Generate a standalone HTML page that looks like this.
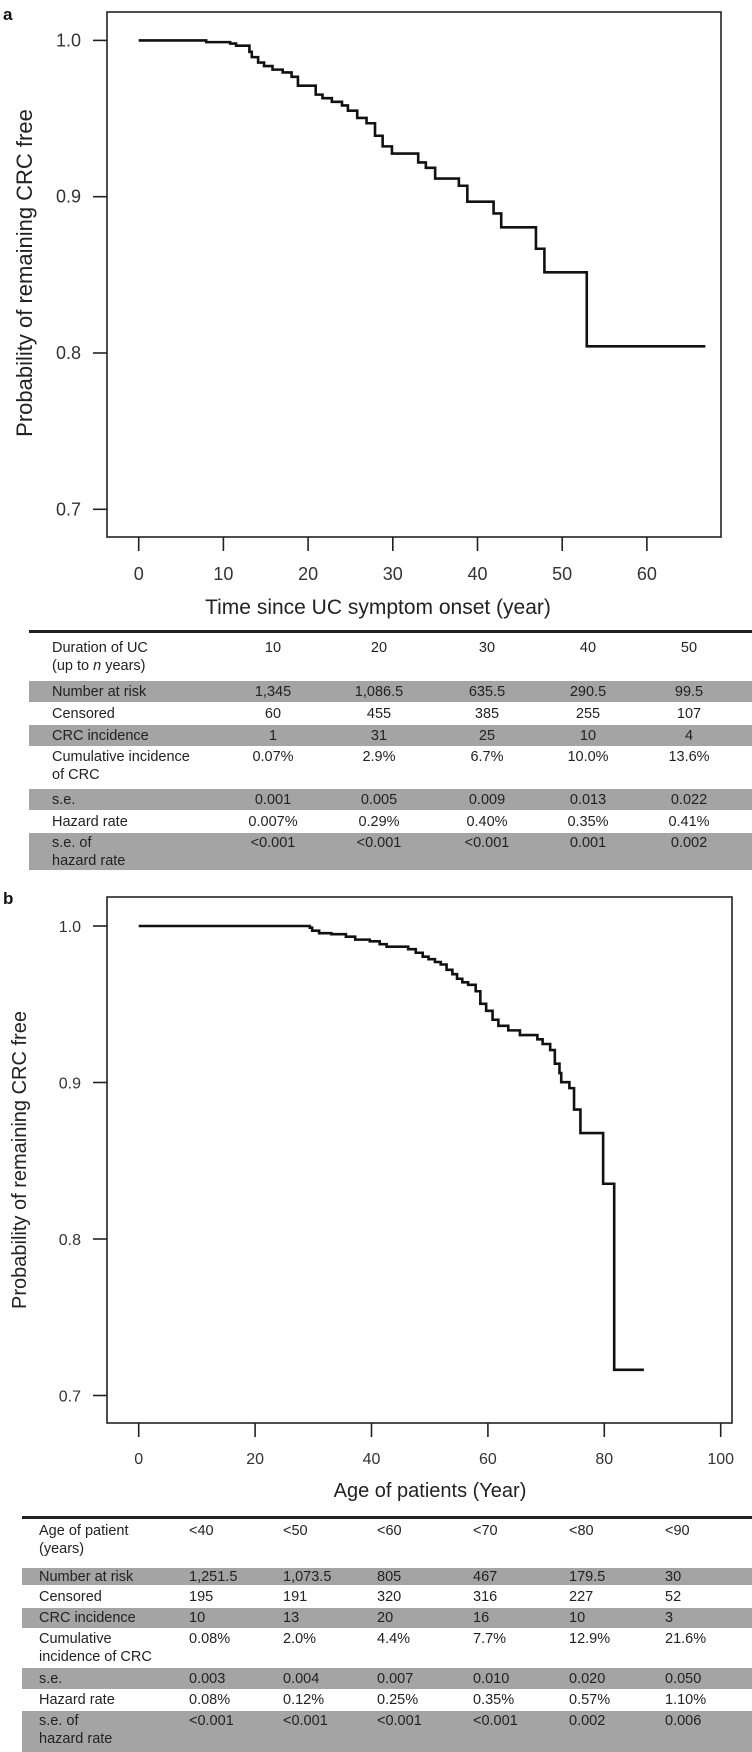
<!DOCTYPE html>
<html><head><meta charset="utf-8">
<style>
body{margin:0;width:752px;height:1752px;background:#fff;position:relative;overflow:hidden;font-family:"Liberation Sans",Arial,sans-serif;color:#222}
svg{position:absolute;left:0;top:0}
.row{position:absolute;left:0;width:752px}
.g{background:#a4a4a4}
.c{position:absolute;font-size:14.5px;line-height:18px;white-space:nowrap}
.ctr{transform:translateX(-50%)}
</style></head>
<body>
<svg id="chart" width="752" height="1752"></svg>

<div id="tables"></div>

<script>
// Panel a data
const aTimes = [0, 7.97, 10.8, 11.5, 13.07, 13.35, 14.1, 14.8, 15.8, 17.0, 18.05, 18.8, 20.9, 21.7, 22.8, 24.0, 24.7, 25.8, 26.9, 27.9, 28.8, 29.9, 33.0, 33.9, 35.0, 37.8, 38.8, 41.9, 42.8, 46.9, 47.9, 52.9];
const aSurv  = [1.0, 0.9989, 0.998, 0.9966, 0.9927, 0.9893, 0.9858, 0.9836, 0.9813, 0.9795, 0.9767, 0.971, 0.9653, 0.963, 0.9607, 0.9584, 0.955, 0.9504, 0.947, 0.939, 0.9322, 0.9276, 0.9219, 0.9185, 0.9116, 0.907, 0.8968, 0.8893, 0.8804, 0.8667, 0.8516, 0.8043];
const aEnd = 66.9;
const aXTicks = [0, 10, 20, 30, 40, 50, 60];
const aYTicks = [1.0, 0.9, 0.8, 0.7];
// Panel b data
const bTimes = [0, 29.4, 29.8, 31.0, 33.1, 35.6, 37.2, 39.7, 41.4, 42.6, 46.3, 47.6, 48.8, 49.8, 50.9, 51.9, 52.9, 53.9, 54.7, 55.6, 56.6, 57.9, 58.7, 59.7, 60.8, 61.8, 63.5, 65.5, 68.5, 69.4, 70.7, 71.5, 72.3, 72.6, 74.0, 74.8, 75.9, 79.8, 81.7, 86.8];
const bSurv  = [1.0, 0.9989, 0.997, 0.9954, 0.9948, 0.9932, 0.9913, 0.9902, 0.9884, 0.9868, 0.9852, 0.9829, 0.9804, 0.9788, 0.977, 0.9754, 0.972, 0.9692, 0.9663, 0.964, 0.9624, 0.9583, 0.9503, 0.9458, 0.9401, 0.9362, 0.9333, 0.9303, 0.9276, 0.9246, 0.9207, 0.912, 0.906, 0.9002, 0.8964, 0.8827, 0.8677, 0.8353, 0.7164];
const bEnd = 90.5;
const bXTicks = [0, 20, 40, 60, 80, 100];
const bYTicks = [1.0, 0.9, 0.8, 0.7];

const NS = "http://www.w3.org/2000/svg";
const svg = document.getElementById('chart');
function mk(tag, attrs, parent){const e=document.createElementNS(NS,tag);for(const k in attrs)e.setAttribute(k,attrs[k]);(parent||svg).appendChild(e);return e;}

function panel(cfg){
  const g = mk('g',{});
  
  
  const x = v => cfg.x0 + (v - cfg.xmin) * cfg.xs;
  const y = v => cfg.y1 + (1.0 - v) * cfg.ys;
  const box = mk('rect',{x:cfg.L,y:cfg.T,width:cfg.R-cfg.L,height:cfg.B-cfg.T,fill:'none',stroke:'#222','stroke-width':1.6},g);
  
  
  cfg.xt.forEach(v=>{
    const t=mk('line',{x1:x(v),x2:x(v),y1:cfg.B,y2:cfg.B+14,stroke:'#222','stroke-width':1.6},g);
    
    
    const l=mk('text',{x:x(v),y:cfg.xlY,'text-anchor':'middle','font-size':cfg.tfs,fill:'#333'},g);
    l.textContent=v;
    
    
  });
  cfg.yt.forEach(v=>{
    const t=mk('line',{x1:cfg.L-14,x2:cfg.L,y1:y(v),y2:y(v),stroke:'#222','stroke-width':1.6},g);
    
    
    const l=mk('text',{x:cfg.L-26,y:y(v)+6,'text-anchor':'end','font-size':cfg.tfs,fill:'#333'},g);
    l.textContent=v.toFixed(1);
    
    
  });
  let d='M'+x(cfg.times[0])+','+y(cfg.surv[0]);
  for(let i=1;i<cfg.times.length;i++){d+=' H'+x(cfg.times[i])+' V'+y(cfg.surv[i]);}
  d+=' H'+x(cfg.end);
  const p=mk('path',{d:d,fill:'none',stroke:'#111','stroke-width':2.6},g);
  
  
  const xt=mk('text',{x:cfg.xtX,y:cfg.xtY,'text-anchor':'middle','font-size':cfg.afs,fill:'#222'},g);
  xt.textContent=cfg.xtitle;
  
  
  const yt=mk('text',{x:0,y:0,'text-anchor':'middle','font-size':cfg.yfs,fill:'#222',transform:'translate('+cfg.ytX+','+cfg.ytY+') rotate(-90)'},g);
  yt.textContent='Probability of remaining CRC free';
  
  
  const pl=mk('text',{x:3,y:cfg.plY,'font-size':17,'font-weight':'bold',fill:'#111'},g);
  pl.textContent=cfg.letter;
  
  
}

panel({name:'panel-a-chart',letter:'a',plY:20,L:107,R:721,T:12,B:537,x0:138.7,xmin:0,xs:8.47,y1:40.4,ys:1563,
  xt:aXTicks,yt:aYTicks,times:aTimes,surv:aSurv,end:aEnd,xlY:580,tfs:18,afs:21,yfs:22,
  xtitle:'Time since UC symptom onset (year)',xtX:378,xtY:614,ytX:32,ytY:273});
panel({name:'panel-b-chart',letter:'b',plY:904,L:107,R:732,T:897,B:1423,x0:138.7,xmin:0,xs:5.82,y1:926,ys:1565,
  xt:bXTicks,yt:bYTicks,times:bTimes,surv:bSurv,end:bEnd,xlY:1464,tfs:16,afs:20,yfs:20,
  xtitle:'Age of patients (Year)',xtX:430,xtY:1497,ytX:26,ytY:1160});

// Tables
const tA = {
  name:'table-a', line:631, left:29, labelX:52, center:true,
  cols:[273,379,487,588,689],
  rows:[
    {lab:['Duration of UC','(up to <i>n</i> years)'],v:['10','20','30','40','50'],t:637,b:680,g:false},
    {lab:['Number at risk'],v:['1,345','1,086.5','635.5','290.5','99.5'],t:680,b:702,g:true},
    {lab:['Censored'],v:['60','455','385','255','107'],t:702,b:724,g:false},
    {lab:['CRC incidence'],v:['1','31','25','10','4'],t:724,b:746,g:true},
    {lab:['Cumulative incidence','of CRC'],v:['0.07%','2.9%','6.7%','10.0%','13.6%'],t:746,b:788,g:false},
    {lab:['s.e.'],v:['0.001','0.005','0.009','0.013','0.022'],t:788,b:810,g:true},
    {lab:['Hazard rate'],v:['0.007%','0.29%','0.40%','0.35%','0.41%'],t:810,b:832,g:false},
    {lab:['s.e. of','hazard rate'],v:['&lt;0.001','&lt;0.001','&lt;0.001','0.001','0.002'],t:832,b:870,g:true}
  ]};
const tB = {
  name:'table-b', line:1517, left:22, labelX:39, center:false,
  cols:[189,283,377,473,569,665],
  rows:[
    {lab:['Age of patient','(years)'],v:['&lt;40','&lt;50','&lt;60','&lt;70','&lt;80','&lt;90'],t:1520,b:1567,g:false},
    {lab:['Number at risk'],v:['1,251.5','1,073.5','805','467','179.5','30'],t:1567,b:1585,g:true},
    {lab:['Censored'],v:['195','191','320','316','227','52'],t:1585,b:1607,g:false},
    {lab:['CRC incidence'],v:['10','13','20','16','10','3'],t:1607,b:1628,g:true},
    {lab:['Cumulative','incidence of CRC'],v:['0.08%','2.0%','4.4%','7.7%','12.9%','21.6%'],t:1628,b:1667,g:false},
    {lab:['s.e.'],v:['0.003','0.004','0.007','0.010','0.020','0.050'],t:1667,b:1689,g:true},
    {lab:['Hazard rate'],v:['0.08%','0.12%','0.25%','0.35%','0.57%','1.10%'],t:1689,b:1710,g:false},
    {lab:['s.e. of','hazard rate'],v:['&lt;0.001','&lt;0.001','&lt;0.001','&lt;0.001','0.002','0.006'],t:1710,b:1752,g:true}
  ]};

const host=document.getElementById('tables');
[tA,tB].forEach(T=>{
  const wrap=document.createElement('div');
  
  
  host.appendChild(wrap);
  const ln=document.createElement('div');
  ln.style.cssText='position:absolute;left:'+T.left+'px;width:'+(752-T.left)+'px;top:'+(T.line-1)+'px;height:3px;background:#222';
  
  
  wrap.appendChild(ln);
  T.rows.forEach((r,i)=>{
    const row=document.createElement('div');
    row.className='row'+(r.g?' g':'');
    row.style.left=T.left+'px';row.style.width=(752-T.left)+'px';
    row.style.top=(r.t+(r.g?1:0))+'px';row.style.height=(r.b-r.t-(r.g?1:0))+'px';
    
    
    wrap.appendChild(row);
    const top = r.lab.length===1 ? Math.round((r.t+r.b)/2 - 9 + 0.5) : r.t+2;
    const lab=document.createElement('div');
    lab.className='c';lab.style.left=T.labelX+'px';lab.style.top=top+'px';
    lab.innerHTML=r.lab.join('<br>');
    
    
    wrap.appendChild(lab);
    r.v.forEach((v,j)=>{
      const c=document.createElement('div');
      c.className='c'+(T.center?' ctr':'');
      c.style.left=T.cols[j]+'px';c.style.top=top+'px';
      c.innerHTML=v;
      
      
      wrap.appendChild(c);
    });
  });
});
</script>
</body></html>
